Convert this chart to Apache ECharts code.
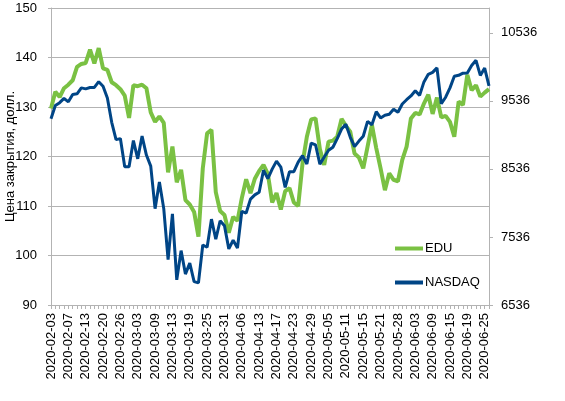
<!DOCTYPE html>
<html>
<head>
<meta charset="utf-8">
<script src="https://cdn.jsdelivr.net/npm/echarts@6/dist/echarts.min.js"></script>
<style>
  html, body { margin: 0; padding: 0; background: #fff; }
  #main { width: 565px; height: 401px; }
</style>
</head>
<body>
<div id="main"></div>
<script>
// торговые дни
const dates = [
  '2020-02-03','2020-02-04','2020-02-05','2020-02-06','2020-02-07','2020-02-10','2020-02-11','2020-02-12','2020-02-13','2020-02-14',
  '2020-02-18','2020-02-19','2020-02-20','2020-02-21','2020-02-24','2020-02-25','2020-02-26','2020-02-27','2020-02-28','2020-03-02',
  '2020-03-03','2020-03-04','2020-03-05','2020-03-06','2020-03-09','2020-03-10','2020-03-11','2020-03-12','2020-03-13','2020-03-16',
  '2020-03-17','2020-03-18','2020-03-19','2020-03-20','2020-03-23','2020-03-24','2020-03-25','2020-03-26','2020-03-27','2020-03-30',
  '2020-03-31','2020-04-01','2020-04-02','2020-04-03','2020-04-06','2020-04-07','2020-04-08','2020-04-09','2020-04-13','2020-04-14',
  '2020-04-15','2020-04-16','2020-04-17','2020-04-20','2020-04-21','2020-04-22','2020-04-23','2020-04-24','2020-04-27','2020-04-28',
  '2020-04-29','2020-04-30','2020-05-01','2020-05-04','2020-05-05','2020-05-06','2020-05-07','2020-05-08','2020-05-11','2020-05-12',
  '2020-05-13','2020-05-14','2020-05-15','2020-05-18','2020-05-19','2020-05-20','2020-05-21','2020-05-22','2020-05-26','2020-05-27',
  '2020-05-28','2020-05-29','2020-06-01','2020-06-02','2020-06-03','2020-06-04','2020-06-05','2020-06-08','2020-06-09','2020-06-10',
  '2020-06-11','2020-06-12','2020-06-15','2020-06-16','2020-06-17','2020-06-18','2020-06-19','2020-06-22','2020-06-23','2020-06-24',
  '2020-06-25','2020-06-26'
]

// EDU, цена закрытия (левая ось)
const edu = [
  129.7, 133.1, 132.0, 133.8, 134.5, 135.4, 138.1, 138.7, 138.9, 141.6,
  138.8, 141.9, 137.8, 137.5, 135.0, 134.4, 133.6, 132.3, 127.8, 134.4,
  134.2, 134.5, 133.8, 128.9, 127.0, 128.1, 126.8, 116.8, 122.0, 114.8,
  117.3, 111.2, 110.3, 108.8, 103.8, 117.6, 124.7, 125.4, 112.8, 109.0,
  108.2, 104.6, 107.8, 107.0, 111.6, 115.4, 112.6, 115.5, 117.1, 118.3,
  116.5, 110.7, 112.6, 109.3, 113.0, 113.6, 110.7, 110.0, 118.6, 124.0,
  127.5, 127.7, 121.5, 118.3, 123.0, 123.2, 124.0, 127.6, 126.2, 125.0,
  120.6, 119.8, 117.6, 122.0, 126.4, 121.7, 117.6, 113.2, 116.6, 115.3,
  115.0, 119.3, 122.0, 127.7, 128.8, 128.5, 130.7, 132.5, 128.6, 131.9,
  127.9, 128.2, 127.0, 124.0, 131.1, 130.4, 136.5, 133.4, 134.4, 132.1,
  132.9, 133.6
]

// NASDAQ (правая ось)
const nasdaq = [
  9273, 9468, 9509, 9572, 9521, 9628, 9639, 9726, 9712, 9731,
  9733, 9817, 9751, 9577, 9221, 8966, 8981, 8566, 8567, 8952,
  8684, 9018, 8739, 8576, 7951, 8344, 7952, 7202, 7875, 6905,
  7335, 6990, 7151, 6880, 6861, 7418, 7384, 7798, 7502, 7774,
  7700, 7361, 7487, 7373, 7913, 7887, 8091, 8154, 8192, 8516,
  8393, 8532, 8650, 8561, 8263, 8495, 8495, 8635, 8730, 8608,
  8915, 8890, 8605, 8711, 8809, 8854, 8980, 9121, 9192, 9003,
  8863, 8944, 9015, 9235, 9185, 9376, 9285, 9325, 9340, 9412,
  9369, 9490, 9552, 9608, 9683, 9616, 9814, 9925, 9954, 10020,
  9493, 9589, 9726, 9896, 9911, 9943, 9946, 10056, 10131, 9909,
  10017, 9757
]

const rightTicks = [6536, 7536, 8536, 9536, 10536]

const font = 'Liberation Sans'
const axisGray = '#b3b3b3'
const green = '#7ac143'
const blue = '#004586'

let mychart = echarts.init(document.getElementById('main'))

var option = {
  animation: false,
  textStyle: { fontFamily: font },
  grid: { left: 51, right: 76, top: 8, bottom: 96, containLabel: false, outerBoundsMode: 'none' },
  legend: {
    orient: 'vertical',
    left: 390,
    top: 237,
    itemWidth: 28,
    itemHeight: 4,
    itemGap: 21,
    icon: 'rect',
    textStyle: { fontFamily: font, fontSize: 13, color: '#000', padding: [0, 0, 0, -3] },
    data: [
      { name: 'EDU', icon: 'rect', itemStyle: { color: green } },
      { name: 'NASDAQ', icon: 'rect', itemStyle: { color: blue } }
    ]
  },
  xAxis: {
    type: 'category',
    data: dates,
    boundaryGap: false,
    axisLine: { lineStyle: { color: axisGray } },
    axisTick: { interval: 0, length: 4, lineStyle: { color: axisGray } },
    axisLabel: {
      interval: 3,
      rotate: 90,
      margin: 8,
      fontSize: 13,
      color: '#000',
      fontFamily: font
    },
    splitLine: { show: false }
  },
  yAxis: [
    {
      type: 'value',
      min: 90,
      max: 150,
      interval: 10,
      name: 'Цена закрытия, долл.',
      nameLocation: 'middle',
      nameGap: 34,
      nameMoveOverlap: false,
      nameTextStyle: { fontFamily: font, fontSize: 13, color: '#000' },
      axisLine: { show: true, lineStyle: { color: axisGray } },
      axisTick: { show: true, length: 3, lineStyle: { color: axisGray } },
      axisLabel: { fontSize: 13, color: '#000', margin: 14, fontFamily: font },
      splitLine: { lineStyle: { color: axisGray } }
    },
    {
      type: 'value',
      min: 6536,
      max: 10900,
      interval: 1000,
      position: 'right',
      axisLine: { show: true, lineStyle: { color: axisGray } },
      axisTick: { show: true, length: 4, customValues: rightTicks, lineStyle: { color: axisGray } },
      axisLabel: {
        fontSize: 13, color: '#000', margin: 12, fontFamily: font,
        customValues: rightTicks,
        formatter: v => String(v)
      },
      splitLine: { show: false }
    }
  ],
  series: [
    {
      name: 'EDU',
      type: 'line',
      yAxisIndex: 0,
      data: edu,
      symbol: 'none',
      lineStyle: { color: green, width: 4 },
      itemStyle: { color: green }
    },
    {
      name: 'NASDAQ',
      type: 'line',
      yAxisIndex: 1,
      data: nasdaq,
      symbol: 'none',
      lineStyle: { color: blue, width: 3 },
      itemStyle: { color: blue }
    }
  ]
}

mychart.setOption(option)

window.addEventListener('resize', () => {
  mychart.resize()
})
</script>
</body>
</html>
